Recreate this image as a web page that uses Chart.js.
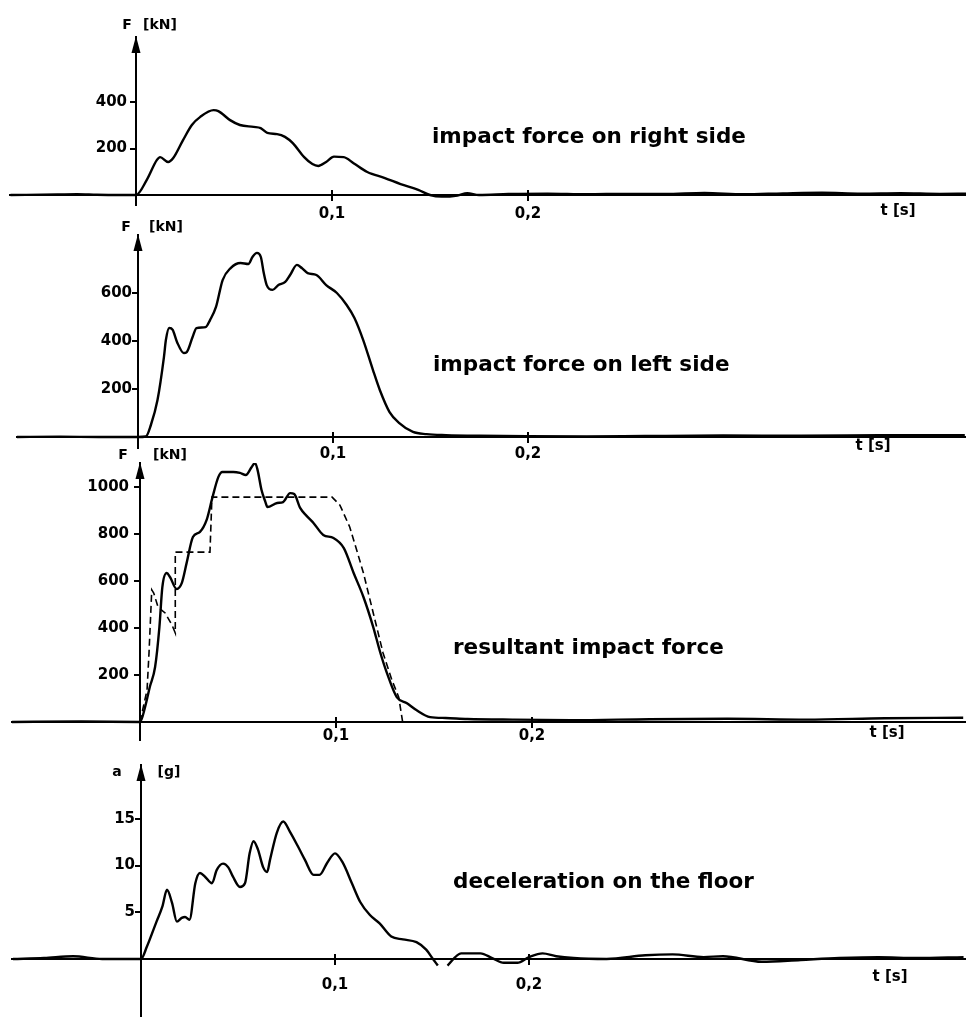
<!DOCTYPE html>
<html><head><meta charset="utf-8">
<script src="https://cdn.jsdelivr.net/npm/chart.js@4.4.1/dist/chart.umd.min.js"></script>
<style>
html,body{margin:0;padding:0;background:#fff;width:966px;height:1017px;overflow:hidden;position:relative}
canvas{position:absolute;left:0}
</style></head><body>
<canvas id="c1" width="966" height="225" style="top:0px"></canvas>
<canvas id="c2" width="966" height="260" style="top:210px"></canvas>
<canvas id="c3" width="966" height="310" style="top:440px"></canvas>
<canvas id="c4" width="966" height="272" style="top:745px"></canvas>
<script>
// ---- tick values / labels ----
const tickT = [0.1, 0.2];
const tickTLabels = ['0,1', '0,2'];
const ticksRight = [200, 400];
const ticksLeft = [200, 400, 600];
const ticksResult = [200, 400, 600, 800, 1000];
const ticksDecel = [5, 10, 15];

// ---- series: impact force on right side ----
const tRight = [-0.064,-0.04,-0.03,-0.02,-0.01,0,0.0055,0.0106,0.0123,0.0164,0.019,0.024,0.0285,0.0328,0.0396,0.042,0.048,0.053,0.060,0.0636,0.067,0.072,0.076,0.080,0.0858,0.090,0.093,0.097,0.101,0.106,0.111,0.118,0.127,0.135,0.144,0.150,0.156,0.164,0.169,0.175,0.19,0.21,0.23,0.25,0.27,0.29,0.31,0.33,0.35,0.37,0.39,0.41,0.424];
const fRight = [0,2,3,1,0,0,65,150,163,142,159,236,301,336,365,361,322,301,293,288,267,262,250,223,163,133,125,142,165,163,137,99,73,47,22,0,-7,-2,8,0,4,6,3,5,4,9,3,7,10,6,8,5,6];

// ---- series: impact force on left side ----
const tLeft = [-0.063,-0.04,-0.02,0,0.004,0.0066,0.010,0.0133,0.0143,0.016,0.0178,0.020,0.0235,0.025,0.028,0.030,0.0347,0.037,0.040,0.0434,0.0475,0.0526,0.0566,0.0587,0.061,0.063,0.0645,0.066,0.069,0.072,0.0755,0.078,0.0815,0.084,0.087,0.0915,0.0965,0.102,0.107,0.111,0.1155,0.1205,0.124,0.129,0.134,0.141,0.148,0.158,0.175,0.2,0.23,0.26,0.3,0.34,0.38,0.424];
const fLeft = [0,1,0,0,2,50,154,333,404,454,446,396,350,354,417,454,458,488,542,654,704,725,721,750,767,750,683,633,613,633,646,675,717,704,683,675,633,600,550,496,404,279,196,104,58,21,12,8,5,3,2,4,6,5,7,8];

// ---- series: resultant impact force (measured, solid) ----
const tResult = [-0.066,-0.03,0,0.0026,0.005,0.0077,0.0099,0.0114,0.0136,0.0153,0.0187,0.0213,0.0238,0.027,0.0306,0.034,0.037,0.040,0.042,0.0476,0.051,0.054,0.057,0.0587,0.060,0.062,0.064,0.065,0.070,0.073,0.0766,0.0787,0.0817,0.085,0.0885,0.0935,0.0987,0.104,0.109,0.114,0.119,0.1225,0.126,0.131,0.136,0.141,0.148,0.156,0.167,0.19,0.22,0.26,0.3,0.34,0.38,0.42];
const fResult = [0,2,0,64,149,234,404,574,634,617,566,591,677,787,809,860,957,1043,1064,1064,1060,1051,1085,1102,1072,987,936,915,932,936,974,970,911,877,847,796,783,740,634,532,404,298,208,106,81,51,21,17,13,10,8,12,14,10,16,18];

// ---- series: resultant impact force (dashed) ----
const tIdeal = [0,0.0036,0.0046,0.006,0.007,0.0092,0.0128,0.0163,0.018,0.018,0.0357,0.0367,0.098,0.102,0.107,0.111,0.114,0.119,0.124,0.1285,0.132,0.134];
const fIdeal = [0,136,294,562,549,489,464,413,379,723,723,957,957,923,830,719,634,464,294,179,106,0];

// ---- series: deceleration on the floor ----
const tDecel = [-0.066,-0.05,-0.035,-0.02,0,0.003,0.008,0.011,0.0134,0.016,0.0185,0.021,0.0227,0.025,0.028,0.0304,0.033,0.0366,0.039,0.0423,0.045,0.0474,0.051,0.0536,0.056,0.058,0.0603,0.063,0.065,0.0665,0.070,0.0733,0.0768,0.081,0.0845,0.089,0.092,0.096,0.100,0.104,0.1087,0.113,0.118,0.123,0.129,0.135,0.142,0.147,0.1505,0.153,0.155,0.158,0.165,0.175,0.181,0.187,0.194,0.200,0.207,0.214,0.223,0.24,0.26,0.274,0.29,0.30,0.32,0.34,0.36,0.38,0.40,0.424];
const aDecel = [0,0.1,0.3,0,0,1.3,4.0,5.6,7.4,6.0,4.0,4.4,4.5,4.2,8.1,9.2,8.8,8.1,9.5,10.2,9.8,8.8,7.7,8.1,11.3,12.6,11.7,9.8,9.3,10.6,13.5,14.7,13.6,12.0,10.6,9.0,9.0,10.3,11.3,10.3,8.1,6.1,4.7,3.8,2.4,2.1,1.8,1.0,0,-0.7,null,-0.7,0.6,0.6,0.1,-0.4,-0.4,0.2,0.6,0.3,0.1,0.0,0.4,0.5,0.2,0.3,-0.3,-0.1,0.1,0.2,0.1,0.2];

// ---------------------------------------------------------------
const W = 966;
const FONT = '"DejaVu Sans", sans-serif';
function pts(t, v) { return t.map((x, i) => ({ x: x, y: v[i] })); }

const deco = {
  id: 'deco',
  afterDraw(chart, args, o) {
    const ctx = chart.ctx, xs = chart.scales.x, ys = chart.scales.y;
    const ax = xs.getPixelForValue(0);
    const by = ys.getPixelForValue(0);
    const top = chart.chartArea.top;
    ctx.save();
    ctx.fillStyle = '#000';
    ctx.strokeStyle = '#000';
    // arrow head on the vertical axis
    ctx.beginPath();
    ctx.moveTo(ax, top - 1);
    ctx.lineTo(ax - 4.5, top + 16);
    ctx.lineTo(ax + 4.5, top + 16);
    ctx.closePath();
    ctx.fill();
    // upper half of the time-axis tick marks (they cross the axis)
    ctx.lineWidth = 2;
    xs.ticks.forEach(tk => {
      const px = xs.getPixelForValue(tk.value);
      ctx.beginPath(); ctx.moveTo(px, by - 5); ctx.lineTo(px, by); ctx.stroke();
    });
    // y tick labels
    ctx.font = 'bold 15px ' + FONT;
    ctx.textAlign = 'right';
    ctx.textBaseline = 'middle';
    ys.ticks.forEach(tk => ctx.fillText(String(tk.value), ax - o.yLabelGap, ys.getPixelForValue(tk.value)));
    // axis names and panel titles
    o.texts.forEach(t => {
      ctx.font = 'bold ' + t.size + 'px ' + FONT;
      ctx.textAlign = t.align || 'center';
      ctx.textBaseline = 'middle';
      ctx.fillText(t.text, t.x, t.y - o.offsetY);
    });
    ctx.restore();
  }
};

function panel(id, L, datasets, yTicks, xLabelPad, yLabelGap, texts) {
  const xmin = -(L.originX - L.left) / L.pxPerX;
  const xmax = (W - L.originX) / L.pxPerX;
  const ymax = (L.baseY - L.areaTop) / L.pxPerY;
  const ymin = -(L.areaBottom - L.baseY) / L.pxPerY;
  return new Chart(document.getElementById(id), {
    type: 'line',
    data: { datasets: datasets },
    plugins: [deco],
    options: {
      responsive: false,
      animation: false,
      events: [],
      layout: { padding: { left: L.left, right: 0, top: L.areaTop - L.top, bottom: L.top + L.height - L.areaBottom } },
      plugins: { legend: { display: false }, tooltip: { enabled: false },
        deco: { texts: texts, offsetY: L.top, yLabelGap: yLabelGap } },
      elements: { point: { radius: 0 } },
      scales: {
        x: {
          type: 'linear', min: xmin, max: xmax, position: { y: 0 },
          border: { display: true, color: '#000', width: 2 },
          grid: { display: true, drawOnChartArea: false, drawTicks: true, tickLength: 5, color: '#000', lineWidth: 2 },
          afterBuildTicks: s => { s.ticks = tickT.map(v => ({ value: v })); },
          ticks: { autoSkip: false, maxRotation: 0, padding: xLabelPad, color: '#000',
            font: { family: FONT, weight: 'bold', size: 15 },
            callback: v => { const i = tickT.indexOf(v); return i >= 0 ? tickTLabels[i] : ''; } }
        },
        y: {
          type: 'linear', min: ymin, max: ymax, position: { x: 0 },
          border: { display: true, color: '#000', width: 2 },
          grid: { display: true, drawOnChartArea: false, drawTicks: true, tickLength: 5, color: '#000', lineWidth: 2 },
          afterBuildTicks: s => { s.ticks = yTicks.map(v => ({ value: v })); },
          ticks: { display: false }
        }
      }
    }
  });
}

const solid = (data) => ({ data: data, borderColor: '#000', borderWidth: 2.4, fill: false, cubicInterpolationMode: 'monotone', spanGaps: false });

panel('c1', { top: 0, height: 225, left: 10, areaTop: 37, areaBottom: 205, originX: 136, pxPerX: 1960, baseY: 195, pxPerY: 0.2325 },
  [solid(pts(tRight, fRight))], ticksRight, 5, 9,
  [{ text: 'F', x: 127, y: 25, size: 14 }, { text: '[kN]', x: 160, y: 25, size: 14 },
   { text: 'impact force on right side', x: 432, y: 137, size: 21.5, align: 'left' },
   { text: 't [s]', x: 898, y: 211, size: 15 }]);

panel('c2', { top: 210, height: 260, left: 17, areaTop: 235, areaBottom: 448, originX: 138, pxPerX: 1950, baseY: 437, pxPerY: 0.24 },
  [solid(pts(tLeft, fLeft))], ticksLeft, 3, 6,
  [{ text: 'F', x: 126, y: 227, size: 14 }, { text: '[kN]', x: 166, y: 227, size: 14 },
   { text: 'impact force on left side', x: 433, y: 365, size: 21.5, align: 'left' },
   { text: 't [s]', x: 873, y: 446, size: 15 }]);

panel('c3', { top: 440, height: 310, left: 12, areaTop: 463, areaBottom: 740, originX: 140, pxPerX: 1960, baseY: 722, pxPerY: 0.235 },
  [solid(pts(tResult, fResult)),
   { data: pts(tIdeal, fIdeal), borderColor: '#000', borderWidth: 1.6, borderDash: [7, 4], fill: false, tension: 0 }],
  ticksResult, 0, 11,
  [{ text: 'F', x: 123, y: 455, size: 14 }, { text: '[kN]', x: 170, y: 455, size: 14 },
   { text: 'resultant impact force', x: 453, y: 648, size: 21.5, align: 'left' },
   { text: 't [s]', x: 887, y: 733, size: 15 }]);

panel('c4', { top: 745, height: 272, left: 12, areaTop: 765, areaBottom: 1017, originX: 141, pxPerX: 1940, baseY: 959, pxPerY: 9.35 },
  [solid(pts(tDecel, aDecel))], ticksDecel, 12, 6,
  [{ text: 'a', x: 117, y: 772, size: 14 }, { text: '[g]', x: 169, y: 772, size: 14 },
   { text: 'deceleration on the floor', x: 453, y: 882, size: 21.5, align: 'left' },
   { text: 't [s]', x: 890, y: 977, size: 15 }]);
</script>
</body></html>
